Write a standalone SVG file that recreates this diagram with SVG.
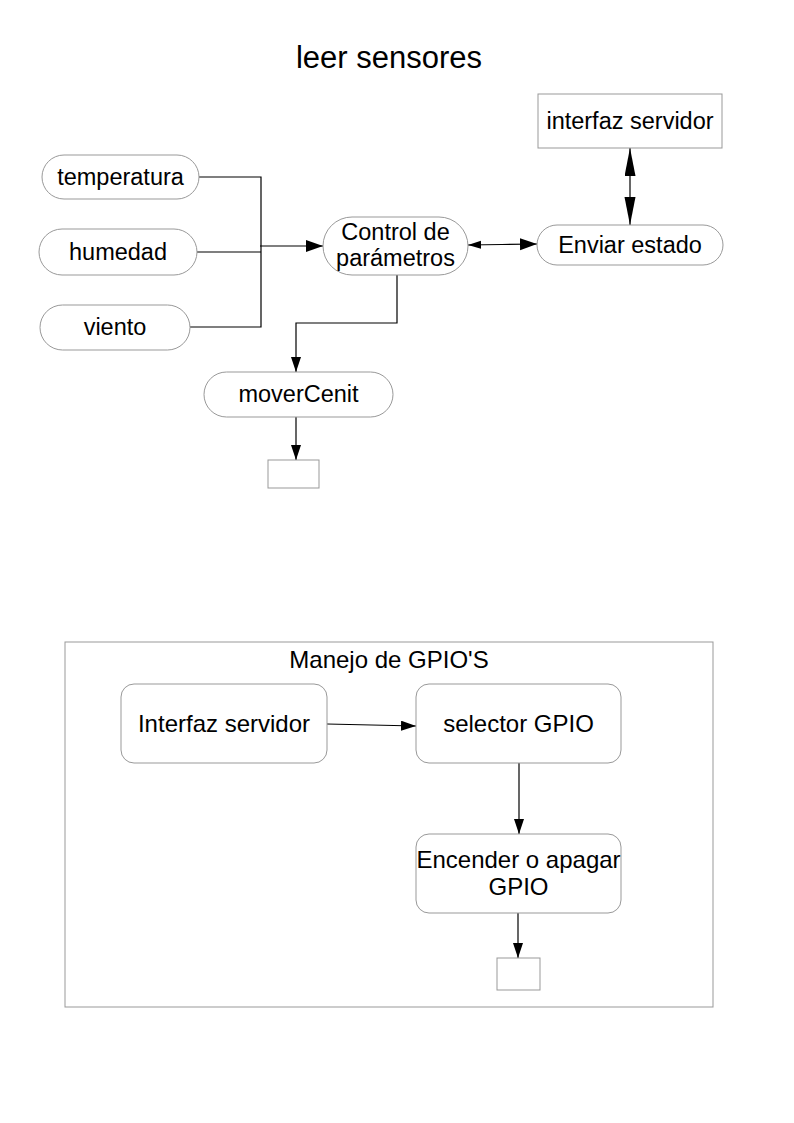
<svg xmlns="http://www.w3.org/2000/svg" width="794" height="1123" viewBox="0 0 794 1123">
<style>
  text { font-family: "Liberation Sans", Arial, sans-serif; fill: #000; text-anchor: middle; }
  .t { font-size: 23.5px; }
  .b { font-size: 24px; }
  .node { fill: #fff; stroke: #999; stroke-width: 1; }
  .frame { fill: none; stroke: #999; stroke-width: 1; }
  .con { fill: none; stroke: #000; stroke-width: 1.2; }
</style>
<defs>
  <marker id="ah" markerUnits="userSpaceOnUse" markerWidth="16" markerHeight="12" refX="15" refY="5" orient="auto">
    <path d="M0,0 L15,5 L0,10 z" fill="#000"/>
  </marker>
  <marker id="ahBig" markerUnits="userSpaceOnUse" markerWidth="18" markerHeight="14" refX="17" refY="6" orient="auto">
    <path d="M0,0 L17,6 L0,12 z" fill="#000"/>
  </marker>
  <marker id="ahSmall" markerUnits="userSpaceOnUse" markerWidth="14" markerHeight="10" refX="13" refY="4" orient="auto">
    <path d="M0,0 L13,4 L0,8 z" fill="#000"/>
  </marker>
  <marker id="ahTall" markerUnits="userSpaceOnUse" markerWidth="29" markerHeight="12" refX="28" refY="5.5" orient="auto">
    <path d="M0,0 L28,5.5 L0,11 z" fill="#000"/>
  </marker>
</defs>
<rect width="794" height="1123" fill="#fff"/>

<text x="389" y="68" style="font-size:31px">leer sensores</text>

<g id="gpio-frame">
  <rect class="frame" x="65" y="642" width="648" height="365"/>
  <text class="b" x="389" y="668">Manejo de GPIO'S</text>
</g>

<g id="connectors">
  <polyline class="con" points="199,177 261,177 261,327 190,327"/>
  <line class="con" x1="197" y1="252" x2="261" y2="252"/>
  <line class="con" x1="260" y1="246" x2="323" y2="246" marker-end="url(#ahBig)"/>
  <polyline class="con" points="397,275 397,323 296,323 296,372" marker-end="url(#ah)"/>
  <line class="con" x1="296" y1="417" x2="296" y2="460" marker-end="url(#ah)"/>
  <line class="con" x1="502" y1="244.5" x2="537" y2="244" marker-end="url(#ahBig)"/>
  <line class="con" x1="502" y1="244.5" x2="468" y2="245" marker-end="url(#ahSmall)"/>
  <line class="con" x1="630" y1="186" x2="630" y2="148" marker-end="url(#ahTall)"/>
  <line class="con" x1="630" y1="186" x2="630" y2="225" marker-end="url(#ahTall)"/>
  <line class="con" x1="327" y1="724" x2="416" y2="726" marker-end="url(#ah)"/>
  <line class="con" x1="519" y1="763" x2="519" y2="834" marker-end="url(#ah)"/>
  <line class="con" x1="518" y1="913" x2="518" y2="958" marker-end="url(#ah)"/>
</g>

<g id="temperatura">
  <rect class="node" x="42" y="155" width="157" height="44" rx="22"/>
  <text class="t" x="120.5" y="185">temperatura</text>
</g>
<g id="humedad">
  <rect class="node" x="39" y="229" width="158" height="46" rx="23"/>
  <text class="t" x="118" y="260">humedad</text>
</g>
<g id="viento">
  <rect class="node" x="40" y="305" width="150" height="45" rx="22.5"/>
  <text class="t" x="115" y="335">viento</text>
</g>
<g id="control">
  <rect class="node" x="323" y="217" width="145" height="58" rx="29"/>
  <text class="t" x="395.5" y="240">Control de</text>
  <text class="t" x="395.5" y="266">parámetros</text>
</g>
<g id="enviar">
  <rect class="node" x="537" y="225" width="186" height="40" rx="20"/>
  <text class="t" x="630" y="253">Enviar estado</text>
</g>
<g id="interfaz-top">
  <rect class="node" x="538" y="94" width="184" height="54"/>
  <text class="t" x="630" y="129">interfaz servidor</text>
</g>
<g id="moverCenit">
  <rect class="node" x="204" y="372" width="189" height="45" rx="22.5"/>
  <text class="t" x="298.5" y="402">moverCenit</text>
</g>
<g id="end-top">
  <rect class="node" x="268" y="460" width="51" height="28"/>
</g>

<g id="interfaz-servidor">
  <rect class="node" x="121" y="684" width="206" height="79" rx="13"/>
  <text class="b" x="224" y="732">Interfaz servidor</text>
</g>
<g id="selector">
  <rect class="node" x="416" y="684" width="205" height="79" rx="13"/>
  <text class="b" x="518.5" y="732">selector GPIO</text>
</g>
<g id="encender">
  <rect class="node" x="416" y="834" width="205" height="79" rx="13"/>
  <text class="b" x="518.5" y="868">Encender o apagar</text>
  <text class="b" x="518.5" y="895">GPIO</text>
</g>
<g id="end-bottom">
  <rect class="node" x="497" y="958" width="43" height="32"/>
</g>
</svg>
